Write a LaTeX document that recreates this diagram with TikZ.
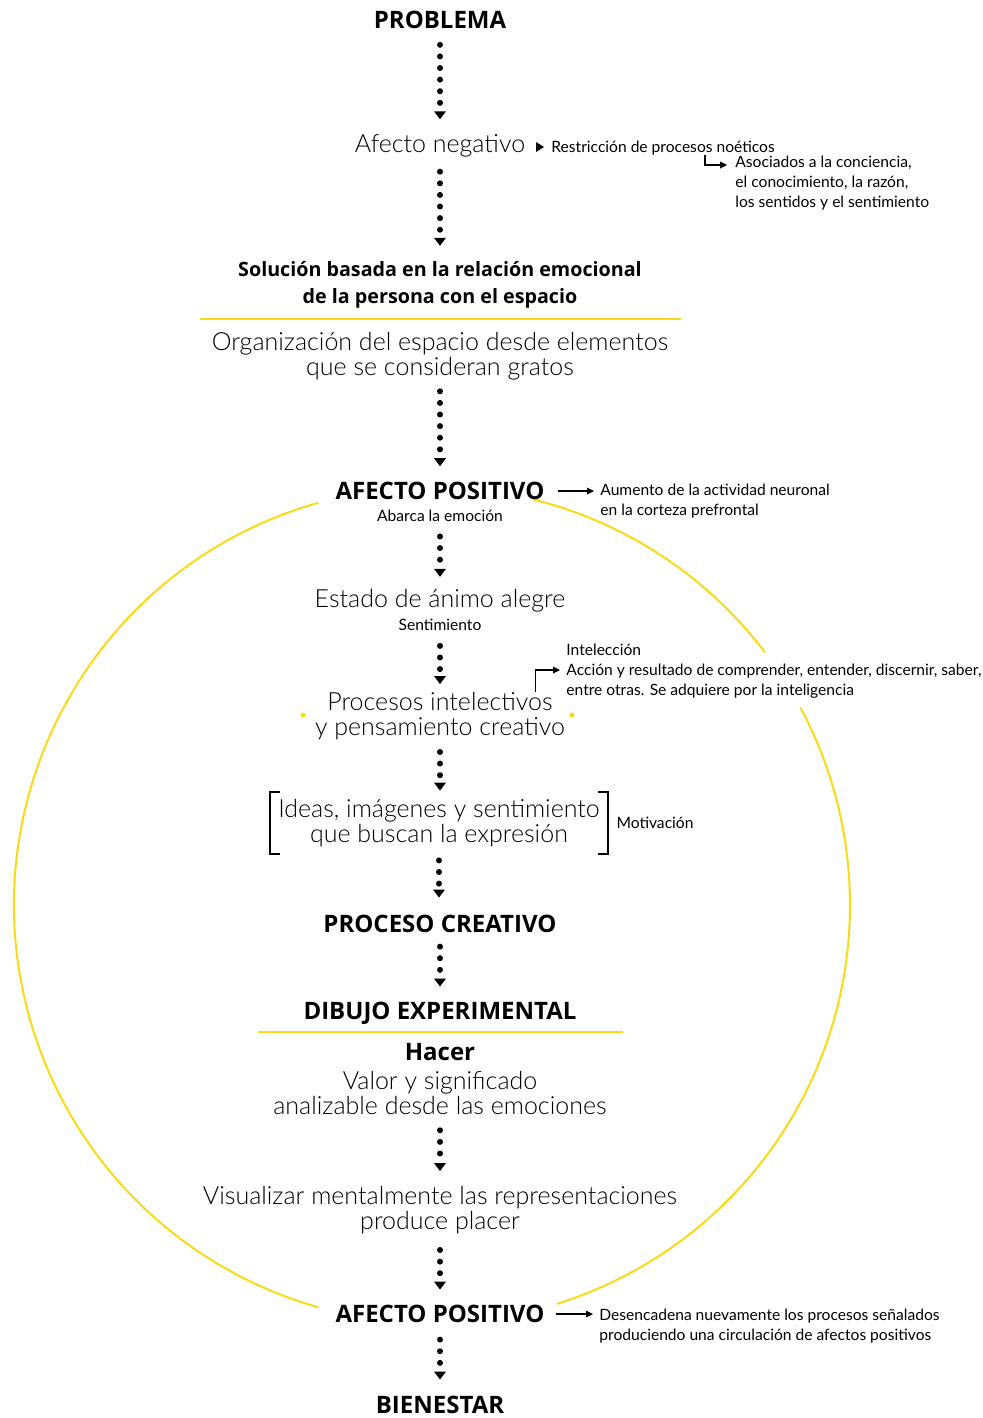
\documentclass[tikz,border=0pt]{standalone}
\usepackage{fontspec}
\setmainfont{Lato}
\newfontfamily\fuerte{Open Sans}
\newfontfamily\fina{Lato Light}
\usepackage{tikz}
\usetikzlibrary{arrows.meta,positioning,calc}
\definecolor{amarillo}{RGB}{250,218,20}

\begin{document}
\begin{tikzpicture}[x=0.5pt,y=-0.5pt,
  titulo/.style={inner sep=0pt,anchor=base,font=\fuerte\bfseries\fontsize{12}{14}\selectfont},
  subtitulo/.style={inner sep=0pt,align=center,font=\fuerte\bfseries\fontsize{9.85}{13.5}\selectfont},
  grande/.style={inner sep=0pt,align=center,font=\fina\fontsize{12.5}{12.5}\selectfont},
  nota/.style={inner sep=0pt,align=left,font=\fontsize{7.8}{9.9}\selectfont},
  puntos/.style={line width=3pt,line cap=round,dash pattern=on 0pt off 5.8pt,
    -{Triangle[width=6pt,length=4pt,line width=0pt]}},
  flecha/.style={line width=0.75pt,-{Triangle[width=3.5pt,length=3.5pt,line width=0pt]}},
  amarilla/.style={amarillo,line width=1pt}]
\useasboundingbox (0,0) rectangle (983,1418);

% circulo de afectos
\draw[amarilla] (432,905) ++(-105.8:418) arc[start angle=-105.8, end angle=-254.2, radius=418];
\draw[amarilla] (432,905) ++(-76:418) arc[start angle=-76, end angle=-37.2, radius=418];
\draw[amarilla] (432,905) ++(-28.2:418) arc[start angle=-28.2, end angle=72.6, radius=418];
\fill[amarillo] (303,715) circle[radius=2.5];
\fill[amarillo] (572,715) circle[radius=2.5];

% cadena central
\node[titulo] (problema) at (440,29) {PROBLEMA};
\node[grande] (afneg) at (440,146) {Afecto negativo};
\node[subtitulo] (solucion) at (440,285) {Solución basada en la relación emocional\\de la persona con el espacio};
\draw[amarilla] (200,319) -- (681,319);
\node[grande] (organiza) at (440,356) {Organización del espacio desde elementos\\que se consideran gratos};
\node[titulo] (afpos) at (440,499.6) {AFECTO POSITIVO};
\node[nota] (abarca) at (440,516) {Abarca la emoción};
\node[grande] (estado) at (440,601) {Estado de ánimo alegre};
\node[nota] (sentim) at (440,625) {Sentimiento};
\node[grande] (procesos) at (440,716) {Procesos intelectivos\\y pensamiento creativo};
\node[grande,inner xsep=4pt,minimum height=30.5pt] (ideas) at (439,823) {Ideas, imágenes y sentimiento\\que buscan la expresión};
\node[titulo] (proceso) at (440,932.6) {PROCESO CREATIVO};
\node[titulo] (dibujo) at (440,1019.6) {DIBUJO EXPERIMENTAL};
\draw[amarilla] (258,1032) -- (623,1032);
\node[titulo] (hacer) at (440,1060.6) {Hacer};
\node[grande] (valor) at (440,1093) {Valor y significado\\analizable desde las emociones};
\node[grande] (visual) at (440,1210) {Visualizar mentalmente las representaciones\\produce placer};
\node[titulo] (afpos2) at (440,1322.6) {AFECTO POSITIVO};
\node[titulo] (bienestar) at (440,1413.6) {BIENESTAR};

\foreach \a/\b/\s/\e in {problema/afneg/7.6/7.5, afneg/solucion/7/7.7, organiza/afpos/5.5/7.8,
  abarca/estado/7.15/6.2, sentim/procesos/7.35/3.9, procesos/ideas/5.9/0.75, ideas/proceso/3.25/8.65,
  proceso/dibujo/6.7/7.65, valor/visual/7.6/7.4, visual/afpos2/7.9/7.65, afpos2/bienestar/8.2/8.15}
  \draw[puntos,shorten <=\s pt,shorten >=\e pt] (\a.south) -- (\a.south |- \b.north);

% corchetes
\draw[line width=0.9pt] ([xshift=5pt]ideas.north west) -| (ideas.south west) -- ++(5pt,0);
\draw[line width=0.9pt] ([xshift=-5pt]ideas.north east) -| (ideas.south east) -- ++(-5pt,0);

% notas laterales
\fill (536,142) -- (544,147) -- (536,152) -- cycle;
\node[nota,anchor=west] (restric) at (551,148) {Restricción de procesos noéticos};
\node[nota,anchor=north west] (asociados) at (735,156) {Asociados a la conciencia,\\el conocimiento, la razón,\\los sentidos y el sentimiento};
\draw[flecha,shorten >=4pt] ([xshift=-35pt]restric.south east) |- ([yshift=-4.5pt]asociados.north west);

\node[nota,anchor=north west] (aumento) at (600,484) {Aumento de la actividad neuronal\\en la corteza prefrontal};
\draw[flecha,shorten <=6.5pt,shorten >=3pt] (afpos.east) -- (afpos.east -| aumento.west);

\node[nota,anchor=north west] (intelec) at (566,644) {Intelección\\Acción y resultado de comprender, entender, discernir, saber,\\entre otras. Se adquiere por la inteligencia};
\draw[flecha,shorten >=3pt] ([xshift=-15pt]procesos.north east) |- ([yshift=-13pt]intelec.north west);

\node[nota,right=4pt of ideas] (motiva) {Motivación};

\node[nota,anchor=north west] (desenc) at (599,1309) {Desencadena nuevamente los procesos señalados\\produciendo una circulación de afectos positivos};
\draw[flecha,shorten <=5.5pt,shorten >=3pt] (afpos2.east) -- (afpos2.east -| desenc.west);
\end{tikzpicture}
\end{document}
